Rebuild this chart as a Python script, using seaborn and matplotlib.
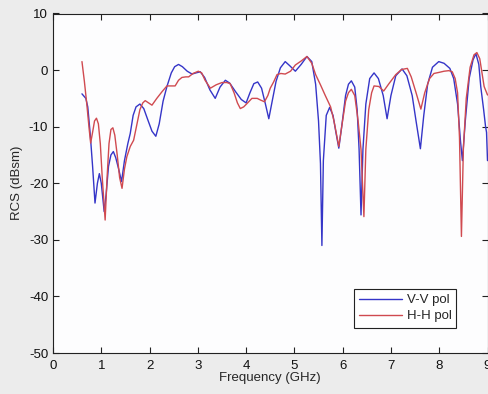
import matplotlib
matplotlib.use("Agg")
import matplotlib.pyplot as plt
import seaborn as sns
import pandas as pd

# ---- data ----
vv_freq = [0.60, 0.68, 0.72, 0.77, 0.82, 0.87, 0.92, 0.96, 1.00, 1.06, 1.10, 1.15, 1.20, 1.25,
           1.30, 1.36, 1.42, 1.48, 1.55, 1.60, 1.66, 1.72, 1.80, 1.88, 1.96, 2.05, 2.13, 2.20,
           2.28, 2.36, 2.45, 2.52, 2.60, 2.68, 2.78, 2.88, 2.96, 3.05, 3.14, 3.25, 3.36, 3.46,
           3.57, 3.66, 3.78, 3.90, 4.00, 4.08, 4.16, 4.24, 4.32, 4.40, 4.47, 4.54, 4.62, 4.71,
           4.81, 4.90, 5.02, 5.14, 5.26, 5.36, 5.44, 5.50, 5.54, 5.57, 5.60, 5.66, 5.73, 5.80,
           5.86, 5.92, 5.98, 6.06, 6.12, 6.18, 6.25, 6.30, 6.34, 6.38, 6.42, 6.48, 6.56, 6.65,
           6.74, 6.84, 6.92, 7.00, 7.10, 7.23, 7.33, 7.44, 7.52, 7.61, 7.68, 7.76, 7.86, 7.99,
           8.10, 8.22, 8.30, 8.38, 8.44, 8.48, 8.54, 8.62, 8.70, 8.76, 8.82, 8.86, 8.92, 8.96,
           8.98, 9.00]
vv_rcs = [-4.2, -5.0, -6.5, -11.2, -17.0, -23.5, -20.0, -18.3, -20.0, -25.0, -22.0, -17.0, -15.0, -14.4,
          -15.5, -17.5, -19.7, -16.0, -13.0, -11.2, -8.0, -6.5, -6.0, -6.8, -8.7, -10.8, -11.7, -9.5,
          -5.5, -2.9, -0.5, 0.6, 1.0, 0.6, -0.2, -0.7, -0.5, -0.3, -1.3, -3.5, -5.0, -3.0,
          -1.8, -2.3, -3.8, -5.2, -5.8, -4.0, -2.4, -2.1, -3.2, -6.0, -8.6, -5.5, -2.0, 0.4,
          1.5, 0.8, -0.2, 1.0, 2.4, 1.5, -2.5, -9.0, -16.5, -31.0, -16.0, -8.0, -6.6, -8.0,
          -11.0, -13.8, -10.0, -4.5, -2.5, -1.9, -3.0, -7.0, -14.0, -25.6, -14.0, -6.0, -1.5, -0.5,
          -1.5, -4.5, -8.6, -4.5, -1.0, 0.2, -1.0, -4.5, -9.0, -13.9, -8.0, -2.5, 0.5, 1.5,
          1.2, 0.3, -1.5, -6.0, -12.5, -16.0, -9.0, -1.5, 1.8, 2.9, 1.0, -2.9, -7.0, -10.0,
          -11.0, -16.0]

hh_freq = [0.60, 0.65, 0.70, 0.75, 0.78, 0.82, 0.86, 0.90, 0.94, 0.98, 1.02, 1.08, 1.12, 1.16,
           1.20, 1.24, 1.28, 1.33, 1.38, 1.43, 1.48, 1.53, 1.60, 1.67, 1.74, 1.80, 1.86, 1.91,
           1.98, 2.05, 2.15, 2.26, 2.36, 2.45, 2.53, 2.60, 2.67, 2.75, 2.81, 2.90, 3.01, 3.08,
           3.15, 3.26, 3.38, 3.50, 3.60, 3.67, 3.75, 3.82, 3.88, 3.95, 4.02, 4.12, 4.23, 4.30,
           4.38, 4.45, 4.50, 4.57, 4.64, 4.72, 4.81, 4.92, 5.02, 5.14, 5.26, 5.36, 5.44, 5.54,
           5.64, 5.75, 5.82, 5.92, 5.98, 6.06, 6.12, 6.18, 6.25, 6.32, 6.38, 6.44, 6.48, 6.54,
           6.60, 6.65, 6.75, 6.85, 6.95, 7.10, 7.22, 7.34, 7.42, 7.52, 7.62, 7.70, 7.80, 7.89,
           8.00, 8.10, 8.20, 8.27, 8.33, 8.38, 8.42, 8.46, 8.50, 8.56, 8.64, 8.72, 8.78, 8.84,
           8.93, 9.00]
hh_rcs = [1.5, -2.0, -6.0, -10.5, -12.9, -11.0, -9.0, -8.5, -9.5, -13.0, -19.0, -26.5, -19.0, -13.0,
          -10.5, -10.2, -11.5, -15.0, -19.0, -20.9, -17.5, -15.3, -13.5, -12.4, -9.5, -7.0, -5.8, -5.4,
          -5.8, -6.2, -5.0, -3.8, -2.8, -2.8, -2.8, -1.8, -1.3, -1.2, -1.2, -0.6, -0.2, -0.5,
          -1.8, -3.2, -2.6, -2.2, -2.2, -2.4, -4.0, -5.8, -6.8, -6.5, -5.9, -5.0, -5.0, -5.3,
          -5.6, -4.5, -3.2, -2.1, -0.8, -0.6, -0.7, -0.2, 0.9, 1.6, 2.4, 1.2, -0.8, -2.6,
          -4.5, -6.5, -9.0, -13.5, -10.0, -5.5, -4.0, -3.4, -4.5, -9.0, -14.0, -25.9, -14.0, -7.0,
          -4.0, -2.8, -2.9, -3.7, -2.5, -0.8, 0.1, 0.3, -1.2, -4.0, -6.9, -4.0, -1.5, -0.6,
          -0.4, -0.2, -0.1, -0.3, -1.5, -4.0, -12.0, -29.4, -14.0, -5.0, 0.5, 2.7, 3.1, 2.0,
          -2.9, -4.4]

series_names = ["V-V pol", "H-H pol"]
series_colors = ["#3535c8", "#d04a50"]
x_ticks = [0, 1, 2, 3, 4, 5, 6, 7, 8, 9]
y_ticks = [-50, -40, -30, -20, -10, 0, 10]

df = pd.concat([
    pd.DataFrame({"freq": vv_freq, "rcs": vv_rcs, "pol": series_names[0]}),
    pd.DataFrame({"freq": hh_freq, "rcs": hh_rcs, "pol": series_names[1]}),
], ignore_index=True)

sns.set_style("ticks")
plt.rcParams["font.family"] = ["Liberation Sans", "DejaVu Sans"]

fig = plt.figure(figsize=(4.88, 3.94), dpi=100, facecolor="#ececec")
ax = fig.add_axes([53 / 488, 41 / 394, 434.5 / 488, 339.5 / 394])
ax.set_facecolor("#fdfdfe")

sns.lineplot(data=df, x="freq", y="rcs", hue="pol", palette=series_colors,
             hue_order=series_names, linewidth=1.0, sort=False, estimator=None, ax=ax)

ax.set_xlim(0, 9)
ax.set_ylim(-50, 10)
ax.set_xticks(x_ticks)
ax.set_yticks(y_ticks)
ax.set_xticklabels([str(t) for t in x_ticks])
ax.set_yticklabels([str(t) for t in y_ticks])
ax.tick_params(direction="in", length=4, width=0.8, colors="#222222", labelsize=9.5,
               top=True, right=True)
ax.tick_params(axis="x", pad=5)
ax.tick_params(axis="y", pad=3.5)
ax.tick_params(axis="both", labelcolor="#111111")
for s in ax.spines.values():
    s.set_linewidth(0.8)
    s.set_color("#222222")
ax.set_xlabel("Frequency (GHz)", fontsize=9.5, labelpad=0)
ax.set_ylabel("RCS (dBsm)", fontsize=9.5, labelpad=4)

leg = ax.legend(loc="lower left", bbox_to_anchor=(0.693, 0.0745, 0.234, 0.124),
                mode="expand", fontsize=9.5, handlelength=3.2, handletextpad=0.4,
                borderaxespad=0, fancybox=False, framealpha=1, edgecolor="#222222",
                borderpad=0.4, labelspacing=0.3)
leg.get_frame().set_linewidth(0.8)

fig.savefig("out.png", dpi=100, facecolor=fig.get_facecolor())
